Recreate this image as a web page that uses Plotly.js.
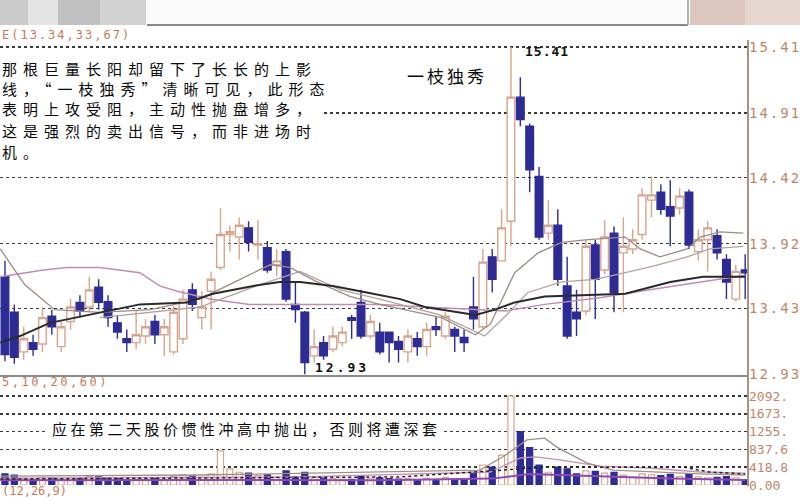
<!DOCTYPE html>
<html>
<head>
<meta charset="utf-8">
<script src="https://cdn.plot.ly/plotly-3.0.1.min.js"></script>
<style>
html,body{margin:0;padding:0;background:#fff;}
#chart{width:800px;height:500px;}
.ytick text{letter-spacing:2px;}
</style>
</head>
<body>
<div id="chart"></div>
<script>
// ---- candle data (index, open, high, low, close) ----
const openP  = [13.67,13.40,13.10,13.17,13.16,13.37,13.14,13.33,13.475,13.44,13.59,13.48,13.32,13.20,13.17,13.22,13.33,13.23,13.10,13.20,
                13.57,13.36,13.56,13.74,13.99,13.97,14.04,13.91,13.89,13.76,13.86,13.46,13.40,13.07,13.17,13.12,13.17,13.36,13.475,13.22,
                13.25,13.25,13.18,13.10,13.20,13.14,13.29,13.22,13.27,13.21,13.44,13.29,13.82,13.79,14.09,15.03,14.81,14.43,14.00,14.06,
                13.60,13.40,13.41,13.91,13.72,14.00,13.85,13.88,13.99,14.25,14.31,14.20,14.19,14.31,13.86,13.95,13.98,13.80,13.50,13.72];
const highP  = [13.79,13.46,13.29,13.23,13.44,13.42,13.33,13.50,13.53,13.67,13.65,13.53,13.38,13.27,13.41,13.35,13.38,13.35,13.45,13.57,
                13.62,13.56,13.71,14.19,14.06,14.12,14.09,14.10,13.94,13.88,13.88,13.63,13.41,13.27,13.22,13.29,13.29,13.38,13.57,13.38,
                13.32,13.25,13.22,13.27,13.25,13.32,13.37,13.40,13.29,13.27,13.67,13.88,13.88,14.18,15.41,15.18,14.83,14.50,14.25,14.18,
                13.82,13.57,13.95,13.95,14.10,14.05,14.12,14.03,14.34,14.43,14.37,14.40,14.34,14.33,14.03,14.09,14.03,13.84,13.76,13.84];
const lowP   = [13.03,13.01,13.04,13.07,13.10,13.23,13.10,13.27,13.36,13.41,13.42,13.29,13.20,13.10,13.12,13.16,13.16,13.07,13.08,13.16,
                13.41,13.27,13.27,13.72,13.86,13.80,13.86,13.80,13.70,13.67,13.48,13.32,12.93,13.02,13.04,13.10,13.14,13.20,13.20,13.20,
                13.08,13.02,13.02,13.02,13.07,13.07,13.22,13.20,13.10,13.10,13.27,13.27,13.55,13.79,13.90,14.81,14.31,13.95,13.95,13.60,
                13.20,13.22,13.38,13.35,13.69,13.40,13.40,13.84,13.95,14.12,14.14,13.90,14.14,13.88,13.79,13.71,13.80,13.50,13.48,13.50];
const closeP = [13.08,13.06,13.20,13.12,13.36,13.29,13.29,13.44,13.41,13.57,13.475,13.36,13.25,13.17,13.23,13.29,13.23,13.29,13.40,13.50,
                13.46,13.44,13.65,13.99,14.01,14.06,13.93,13.92,13.72,13.79,13.50,13.42,13.02,13.14,13.07,13.22,13.25,13.34,13.22,13.33,
                13.10,13.17,13.12,13.22,13.14,13.27,13.27,13.37,13.22,13.17,13.35,13.78,13.65,14.04,15.03,14.86,14.48,13.97,14.06,13.65,
                13.22,13.35,13.90,13.65,13.97,13.55,13.90,13.95,14.29,14.29,14.18,14.13,14.28,13.91,13.95,14.04,13.85,13.63,13.71,13.70];
const volume = [260,230,150,120,180,160,140,170,150,200,190,170,150,120,140,130,150,120,200,230,
                210,180,260,800,380,300,280,220,240,180,330,200,300,180,160,150,140,130,220,160,
                170,150,140,150,120,160,110,180,130,120,300,470,420,700,2092,1255,880,470,300,420,
                380,260,330,320,280,300,230,180,260,240,220,250,200,260,190,170,180,200,170,120];

// ---- moving-average lines (index, value) ----
const maBlackX = [-0.5,1.6,4.8,10.1,14.4,19.4,22.2,26.5,29.3,31.5,35,38.6,42.2,44.8,50.2,52.3,54.4,57.6,66.2,71,74.5,79];
const maBlackY = [13.17,13.22,13.32,13.40,13.46,13.475,13.54,13.60,13.63,13.63,13.60,13.55,13.50,13.44,13.38,13.42,13.475,13.52,13.54,13.63,13.67,13.67];
const maGray1X = [-0.5,2.1,5.3,10.1,15.5,20.8,25.1,28.3,30.4,33.3,36.8,40,46.6,50.2,51.8,54.4,56.9,59.4,62.2,66.2,67.8,69.9,72.8,74.2,76.3,78.8];
const maGray1Y = [13.88,13.61,13.42,13.40,13.42,13.50,13.65,13.76,13.74,13.63,13.52,13.46,13.36,13.23,13.31,13.70,13.85,13.93,13.95,13.97,13.88,13.82,13.88,13.97,14.01,14.00];
const maGray2X = [10.1,20.8,27.2,31.5,35.8,40,46.4,51.2,53.4,55.8,59.4,63,66.2,69.2,72.8,75.2,78.8];
const maGray2Y = [13.36,13.44,13.61,13.71,13.57,13.50,13.38,13.22,13.37,13.55,13.63,13.65,13.70,13.75,13.82,13.88,13.90];
const maMauveX = [-0.5,4.1,6.6,10.1,14.4,16.5,18.4,21.9,26.1,31.5,40,44.8,53.4,57.6,63.5,68.8,74.2,79];
const maMauveY = [13.67,13.72,13.74,13.74,13.70,13.60,13.56,13.50,13.46,13.46,13.46,13.44,13.41,13.46,13.51,13.57,13.63,13.68];

const vmaGrayX  = [-0.5,20.8,50.7,53.4,55.7,57.6,58.9,62.1,64.9,68.8,74.2,79];
const vmaGrayY  = [210,235,350,700,1060,1100,890,520,350,305,260,235];
const vmaPinkX  = [-0.5,31.5,51.8,55,56.6,59.2,63.5,68.8,74.2,79];
const vmaPinkY  = [160,190,305,635,660,590,445,400,305,280];
const vmaBlackX = [-0.5,42.2,57.8,63.5,67.8,72.4,75.2,79];
const vmaBlackY = [140,190,420,420,420,420,305,260];
const vmaPurpleX = [-0.5,20,40,52,56,60,70,79];
const vmaPurpleY = [110,120,110,150,260,230,160,120];

// ---- tick labels ----
const priceTicks = [15.41,14.91,14.42,13.92,13.43,12.93];
const priceTickText = ["15.41","14.91","14.42","13.92","13.43","12.93"];
const volTicks = [2092,1673.6,1255.2,836.8,418.4,0];
const volTickText = ["2092.","1673.","1255.","837.6","418.8","0.00"];

const idx = openP.map((_, i) => i);
const UP = '#d8a48c', DOWN = '#2c2c94';
const isUp = idx.map(i => closeP[i] >= openP[i]);

const traces = [
  {type:'scatter', mode:'lines', x:maMauveX, y:maMauveY, line:{color:'#c08cb4', width:1.5}, hoverinfo:'skip'},
  {type:'scatter', mode:'lines', x:maGray2X, y:maGray2Y, line:{color:'#b4a29c', width:1.3}, hoverinfo:'skip'},
  {type:'scatter', mode:'lines', x:maGray1X, y:maGray1Y, line:{color:'#9c8c84', width:1.3}, hoverinfo:'skip'},
  {type:'scatter', mode:'lines', x:maBlackX, y:maBlackY, line:{color:'#2a2a2a', width:2}, hoverinfo:'skip'},
  {type:'candlestick', x:idx, open:openP, high:highP, low:lowP, close:closeP,
   whiskerwidth:0,
   increasing:{line:{color:UP, width:1.4}, fillcolor:'#ffffff'},
   decreasing:{line:{color:DOWN, width:1.4}, fillcolor:DOWN},
   xaxis:'x', yaxis:'y'},
  {type:'bar', x:idx, y:volume, xaxis:'x', yaxis:'y2',
   marker:{color:isUp.map(u => u ? '#ffffff' : DOWN), line:{color:isUp.map(u => u ? UP : DOWN), width:1.2}},
   hoverinfo:'skip'},
  {type:'scatter', mode:'lines', x:vmaPurpleX, y:vmaPurpleY, xaxis:'x', yaxis:'y2', line:{color:'#9048b0', width:2}, hoverinfo:'skip'},
  {type:'scatter', mode:'lines', x:vmaPinkX, y:vmaPinkY, xaxis:'x', yaxis:'y2', line:{color:'#c890b0', width:1.3}, hoverinfo:'skip'},
  {type:'scatter', mode:'lines', x:vmaGrayX, y:vmaGrayY, xaxis:'x', yaxis:'y2', line:{color:'#a09088', width:1.3}, hoverinfo:'skip'},
  {type:'scatter', mode:'lines', x:vmaBlackX, y:vmaBlackY, xaxis:'x', yaxis:'y2', line:{color:'#222222', width:1.5, dash:'dot'}, hoverinfo:'skip'}
];

const W = 800, H = 500;
const px = x => x / W;
const py = y => 1 - y / H;
const rect = (x0, y0, x1, y1, color, layer) => ({type:'rect', xref:'paper', yref:'paper', x0:px(x0), x1:px(x1), y0:py(y1), y1:py(y0), fillcolor:color, line:{width:0}, layer:layer || 'below'});
const line = (x0, y0, x1, y1, color, w) => ({type:'line', xref:'paper', yref:'paper', x0:px(x0), x1:px(x1), y0:py(y0), y1:py(y1), line:{color:color, width:w}, layer:'above'});

const shapes = [
  rect(0,0,28,25,'#cbcbcb'), rect(28,0,58,25,'#e4e4e4'), rect(58,0,100,25,'#c0c0c0'), rect(100,0,146,25,'#d2d2d2'),
  rect(146,0,688,24,'#fbfbfb'),
  rect(690,0,745,25,'#dcc6be'), rect(745,0,800,25,'#e6d6d0'),
  line(147,25,688,25,'#8a8a8a',2), line(688,0,688,25,'#b0b0b0',2),
  rect(0,55,324,160,'#ffffff','above'),
  rect(48,417,444,440,'#ffffff','above'),
  line(0,376,748,376,'#8c8c8c',2),
  line(748,40,748,486,'#a89284',2)
];

const cjk = '"Noto Sans CJK SC", sans-serif';
const mono = '"DejaVu Sans Mono", monospace';
const ann = (t, x, y, size, color, family, spacing) => ({
  text: '<span style="letter-spacing:' + spacing + 'px">' + t + '</span>',
  xref:'paper', yref:'paper', x:px(x), y:py(y), xanchor:'left', yanchor:'middle', align:'left',
  showarrow:false, font:{size:size, color:color, family:family}
});

const noteLines = [
  '那根巨量长阳却留下了长长的上影',
  '线，“一枝独秀”清晰可见，此形态',
  '表明上攻受阻，主动性抛盘增多，',
  '这是强烈的卖出信号，而非进场时',
  '机。'
];
const noteY = [68, 89, 109, 130, 151];

const annotations = [
  ann('E(13.34,33,67)', 0, 35, 12, '#c47a58', mono, 2),
  ...noteLines.map((t, i) => ann(t, 0, noteY[i], 15, '#0a0a0a', cjk, 6)),
  ann('一枝独秀', 405, 75, 17, '#0a0a0a', cjk, 3),
  ann('<b>15.41</b>', 523, 52, 13, '#111111', mono, 1),
  ann('<b>12.93</b>', 313, 367, 13, '#111111', mono, 3),
  ann('5,10,20,60)', 0, 382, 12, '#c47a58', mono, 2.5),
  ann('应在第二天股价惯性冲高中抛出，否则将遭深套', 50, 428, 15, '#0a0a0a', cjk, 3.5),
  ann('(12,26,9)', 0, 491, 12, '#c47a58', mono, 0)
];

const layout = {
  width:W, height:H, margin:{l:0, r:0, t:0, b:0},
  paper_bgcolor:'#ffffff', plot_bgcolor:'rgba(0,0,0,0)',
  showlegend:false, bargap:0.35, boxgap:0.1, boxgroupgap:0.1,
  xaxis:{domain:[0, 748/800], range:[-0.53, 79.3], showticklabels:false, showgrid:false, zeroline:false,
         showline:false, ticks:'', rangeslider:{visible:false}, fixedrange:true},
  yaxis:{domain:[1-375/500, 1-40/500], range:[12.925, 15.463], side:'right', anchor:'x',
         tickvals:priceTicks, ticktext:priceTickText, ticks:'', showline:false, zeroline:false,
         showgrid:true, griddash:'dot', gridcolor:'#3a3a3a', gridwidth:1.5,
         tickfont:{family:mono, size:14, color:'#c0866a'}},
  yaxis2:{domain:[1-485/500, 1-388/500], range:[0, 2280], side:'right', anchor:'x',
          tickvals:volTicks, ticktext:volTickText, ticks:'', showline:false, zeroline:false,
          showgrid:true, griddash:'dot', gridcolor:'#3a3a3a', gridwidth:1.5,
          tickfont:{family:mono, size:13, color:'#c0866a'}},
  shapes:shapes,
  annotations:annotations
};

Plotly.newPlot('chart', traces, layout, {staticPlot:true, displayModeBar:false});
</script>
</body>
</html>
